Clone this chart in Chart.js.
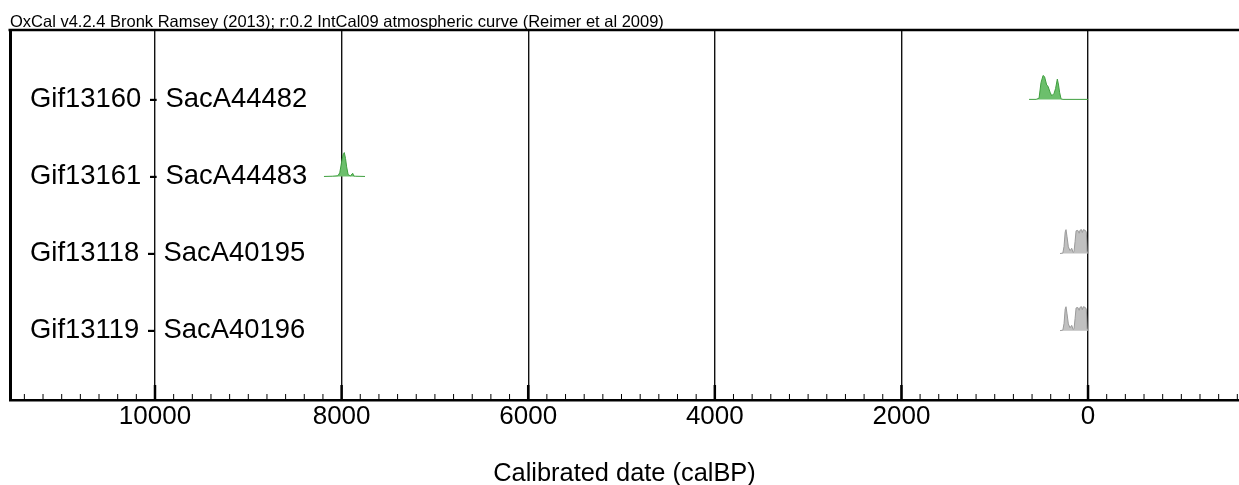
<!DOCTYPE html>
<html lang="en">
<head>
    <meta charset="UTF-8">
    <title>OxCal multiplot</title>
    <script src="https://cdn.jsdelivr.net/npm/chart.js"></script>
    <style>
        html, body { margin: 0; padding: 0; background: #fff; }
        canvas { display: block; }
    </style>
</head>
<body>
<canvas id="oxcalChart" width="1239" height="485"></canvas>
<script>
    const sampleLabels = ['Gif13160 - SacA44482', 'Gif13161 - SacA44483', 'Gif13118 - SacA40195', 'Gif13119 - SacA40196'];

    // calibrated ages (calBP) and relative probability (peak = 1)
    const gif13160Ages = [632, 557, 525, 504, 482, 466, 443, 429, 407, 389, 364, 348, 329, 316, 305, 289, 268, 0];
    const gif13160Prob = [0, 0, 0.05, 0.7, 1.0, 0.95, 0.6, 0.55, 0.3, 0.15, 0.25, 0.45, 0.85, 0.6, 0.3, 0.02, 0, 0];

    const gif13161Ages = [8189, 8100, 8040, 8020, 8000, 7985, 7971, 7958, 7946, 7930, 7905, 7890, 7880, 7870, 7850, 7749];
    const gif13161Prob = [0, 0.01, 0.03, 0.15, 0.6, 0.9, 1.0, 0.75, 0.4, 0.08, 0.02, 0.1, 0.13, 0.02, 0.01, 0];

    const gif13118Ages = [300, 270, 257, 245, 236, 225, 211, 193, 175, 160, 150, 139, 128, 110, 95, 85, 70, 61, 50, 30, 18, 10, 0];
    const gif13118Prob = [0, 0.02, 0.3, 0.9, 1.0, 0.7, 0.28, 0.12, 0.22, 0.05, 0.08, 0.5, 0.95, 0.97, 0.85, 0.98, 1.0, 0.88, 1.0, 0.97, 0.9, 0.1, 0];

    const gif13119Ages = [300, 270, 257, 245, 236, 225, 211, 193, 175, 160, 150, 139, 128, 110, 95, 85, 70, 61, 50, 30, 18, 10, 0];
    const gif13119Prob = [0, 0.02, 0.3, 0.9, 1.0, 0.7, 0.28, 0.12, 0.22, 0.05, 0.08, 0.5, 0.95, 0.97, 0.85, 0.98, 1.0, 0.88, 1.0, 0.97, 0.9, 0.1, 0];

    const FONT = '"Liberation Sans", Arial, Helvetica, sans-serif';
    const peakRows = 0.31; // height of a peak, in rows

    function curve(ages, prob, row, fillColor, lineColor) {
        return {
            data: ages.map((a, i) => ({ x: a, y: row - prob[i] * peakRows })),
            fill: { value: row },
            backgroundColor: fillColor,
            borderColor: lineColor,
            borderWidth: 1,
            pointRadius: 0,
            tension: 0
        };
    }

    // inner ticks + top frame line
    const framePlugin = {
        id: 'frame',
        afterDraw(chart) {
            const ctx = chart.ctx;
            const area = chart.chartArea;
            const xs = chart.scales.x;
            ctx.save();
            ctx.strokeStyle = '#000';
            xs.ticks.forEach(t => {
                const px = xs.getPixelForValue(t.value);
                const major = t.value % 2000 === 0;
                ctx.lineWidth = major ? 2.5 : 1;
                ctx.beginPath();
                ctx.moveTo(px, area.bottom);
                ctx.lineTo(px, area.bottom - (major ? 15 : 6));
                ctx.stroke();
            });
            ctx.lineWidth = 2.5;
            ctx.beginPath();
            ctx.moveTo(area.left - 1.5, area.top);
            ctx.lineTo(area.right, area.top);
            ctx.stroke();
            ctx.restore();
        }
    };

    new Chart(document.getElementById('oxcalChart'), {
        type: 'line',
        data: {
            datasets: [
                curve(gif13160Ages, gif13160Prob, 0, '#6cbf6c', '#3f9f3f'),
                curve(gif13161Ages, gif13161Prob, 1, '#6cbf6c', '#3f9f3f'),
                curve(gif13118Ages, gif13118Prob, 2, '#c0c0c0', '#9a9a9a'),
                curve(gif13119Ages, gif13119Prob, 3, '#c0c0c0', '#9a9a9a')
            ]
        },
        options: {
            responsive: false,
            animation: false,
            devicePixelRatio: 1,
            layout: { padding: { left: 10, right: 0, top: 0, bottom: 0 } },
            plugins: {
                legend: { display: false },
                tooltip: { enabled: false },
                title: {
                    display: true,
                    text: 'OxCal v4.2.4 Bronk Ramsey (2013); r:0.2 IntCal09 atmospheric curve (Reimer et al 2009)',
                    align: 'start',
                    color: '#000',
                    font: { family: FONT, size: 16.5, weight: 'normal', lineHeight: 0.9 },
                    padding: { top: 15, bottom: 0.15 }
                }
            },
            scales: {
                x: {
                    type: 'linear',
                    reverse: true,
                    min: -1618,
                    max: 11554,
                    z: 1,
                    afterBuildTicks: s => {
                        const t = [];
                        for (let v = Math.ceil(s.min / 200) * 200; v <= s.max; v += 200) t.push({ value: v });
                        s.ticks = t;
                    },
                    afterFit: s => { s.height = 85; },
                    grid: {
                        color: c => (c.tick && c.tick.value % 2000 === 0) ? '#111' : 'rgba(0,0,0,0)',
                        lineWidth: 1.4,
                        drawTicks: false
                    },
                    border: { display: true, color: '#000', width: 2.5 },
                    ticks: {
                        autoSkip: false,
                        maxRotation: 0,
                        padding: 4,
                        color: '#000',
                        font: { family: FONT, size: 26, lineHeight: 1 },
                        callback: v => v % 2000 === 0 ? String(v) : ''
                    },
                    title: {
                        display: true,
                        text: 'Calibrated date (calBP)',
                        color: '#000',
                        font: { family: FONT, size: 25.4, lineHeight: 0.85 },
                        padding: { top: 0, bottom: 0 }
                    }
                },
                y: {
                    type: 'linear',
                    reverse: true,
                    min: -0.9,
                    max: 3.9,
                    z: 1,
                    afterBuildTicks: s => { s.ticks = sampleLabels.map((_, i) => ({ value: i })); },
                    afterFit: s => { s.width = 0; s.paddingTop = 0; s.paddingBottom = 0; },
                    grid: { display: false, drawTicks: false },
                    border: { display: true, color: '#000', width: 3 },
                    ticks: {
                        mirror: true,
                        padding: 20,
                        color: '#000',
                        font: { family: FONT, size: 27.4, lineHeight: 1 },
                        callback: v => sampleLabels[v]
                    }
                }
            }
        },
        plugins: [framePlugin]
    });
</script>
</body>
</html>
